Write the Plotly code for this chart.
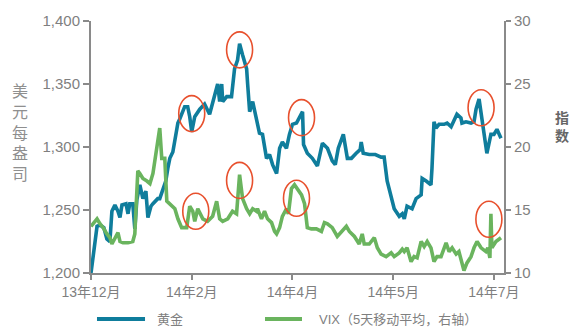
import plotly.graph_objects as go

# ---------------- data ----------------
tick_vals = [0, 40, 80, 120, 160]
tick_text = ["13年12月", "14年2月", "14年4月", "14年5月", "14年7月"]

gold_x = [0, 2.4, 3.6, 5.1, 6.3, 7.5, 8.3, 9.5, 10.7, 11.5,
          12.3, 13.9, 14.7, 15.4, 16.6, 17.4, 18.2, 19.4, 20.6, 21.8,
          22.6, 23.8, 24.6, 25.7, 26.5, 27.3, 28.5, 29.7, 30.5, 31.3,
          32.5, 33.3, 34.5, 35.2, 36.0, 37.2, 38.4, 39.2, 40.0, 41.2,
          43.2, 45.1, 47.1, 48.3, 50.3, 51.1, 51.9, 52.3, 53.9, 55.8,
          57.0, 58.2, 59.0, 60.2, 61.8, 62.2, 63.0, 64.2, 65.0, 66.1,
          66.9, 68.1, 68.9, 69.7, 70.9, 72.1, 73.7, 74.9, 76.0, 77.6,
          78.8, 80.0, 81.6, 82.8, 84.0, 84.4, 85.9, 87.9, 89.9, 91.9,
          93.9, 95.8, 97.0, 98.2, 100.2, 101.8, 103.4, 105.3, 106.9, 107.3,
          108.1, 110.5, 112.9, 115.2, 116.4, 117.6, 119.2, 120.4, 122.4, 123.6,
          124.4, 125.5, 127.5, 129.1, 131.1, 131.5, 133.1, 135.0, 135.4, 136.2,
          137.0, 138.2, 140.2, 141.4, 143.0, 144.2, 145.3, 146.9, 147.3, 148.9,
          150.9, 152.1, 152.9, 154.1, 154.9, 156.0, 157.2, 158.8, 160.0, 161.2,
          162.8]
gold_y = [1200, 1237, 1238, 1236, 1227, 1225, 1249, 1254, 1249, 1244,
          1254, 1255, 1247, 1255, 1255, 1235, 1258, 1270, 1259, 1265,
          1244, 1253, 1255, 1257, 1259, 1259, 1267, 1273, 1283, 1291,
          1296, 1307, 1319, 1322, 1326, 1332, 1332, 1324, 1312, 1324,
          1330, 1334, 1326, 1336, 1350, 1336, 1350, 1336, 1340, 1340,
          1362, 1369, 1382, 1373, 1362, 1350, 1328, 1336, 1328, 1318,
          1311, 1310, 1299, 1291, 1294, 1286, 1279, 1299, 1304, 1299,
          1310, 1318, 1319, 1323, 1328, 1302, 1295, 1291, 1285, 1303,
          1299, 1289, 1286, 1299, 1310, 1291, 1291, 1295, 1298, 1304,
          1295, 1294, 1294, 1292, 1292, 1273, 1259, 1251, 1245, 1247,
          1243, 1253, 1251, 1259, 1262, 1275, 1273, 1270, 1283, 1320,
          1315, 1318, 1318, 1319, 1316, 1322, 1326, 1323, 1319, 1320,
          1319, 1320, 1330, 1338, 1328, 1310, 1295, 1310, 1310, 1314,
          1307]

vix_x = [0, 2.4, 3.6, 4.8, 6.3, 7.5, 8.3, 9.5, 10.7, 11.5,
         12.7, 14.7, 16.6, 17.4, 18.6, 19.4, 20.6, 22.2, 23.4, 24.6,
         26.1, 27.3, 28.1, 29.3, 30.1, 32.1, 33.3, 34.5, 36.0, 38.0,
         39.2, 40.4, 41.2, 42.4, 44.4, 46.3, 48.3, 49.9, 51.1, 52.3,
         54.3, 56.2, 57.8, 59.0, 60.2, 61.8, 63.0, 64.2, 65.7, 66.1,
         67.7, 68.9, 70.1, 71.7, 72.9, 73.7, 74.9, 76.0, 77.6, 78.4,
         79.6, 80.8, 82.0, 83.6, 84.8, 85.9, 87.5, 89.5, 91.5, 92.7,
         93.9, 95.8, 97.8, 99.8, 101.4, 102.6, 104.6, 106.5, 107.7, 108.5,
         110.5, 112.5, 113.7, 115.2, 117.2, 119.2, 120.4, 122.4, 123.6, 124.4,
         125.5, 127.1, 128.3, 129.5, 131.1, 132.3, 133.5, 135.0, 136.2, 137.4,
         139.0, 141.0, 142.2, 143.4, 145.0, 146.1, 148.1, 149.3, 150.9, 152.1,
         153.3, 154.9, 156.8, 157.6, 158.4, 158.8, 159.2, 160.8, 162.8]
vix_y = [13.7, 14.3, 13.9, 13.6, 13.1, 12.8, 12.3, 12.8, 13.2, 12.5,
         12.4, 12.4, 12.5, 13.1, 18.1, 17.9, 17.5, 17.3, 17.1, 17.9,
         19.9, 21.5, 19.1, 19.1, 15.7, 15.3, 15.1, 14.3, 13.6, 13.6,
         15.3, 14.9, 14.1, 15.1, 14.3, 14.1, 14.5, 15.7, 14.3, 14.1,
         14.3, 14.9, 14.7, 17.8, 15.9, 15.1, 14.7, 15.1, 14.9, 15.1,
         14.3, 14.9, 14.3, 14.0, 13.3, 13.1, 13.6, 14.5, 15.1, 14.7,
         16.7, 17.0, 16.7, 16.2, 15.5, 13.6, 13.5, 13.5, 13.3, 14.0,
         13.9, 13.6, 12.9, 13.3, 13.7, 13.3, 12.9, 12.3, 13.1, 12.3,
         12.3, 12.8, 12.0, 11.5, 11.3, 11.6, 11.3, 11.6, 11.9, 11.7,
         12.0, 10.9, 11.3, 11.2, 12.5, 12.1, 12.5, 12.0, 10.9, 11.3,
         11.3, 12.4, 11.7, 12.0, 11.5, 11.7, 10.2, 10.8, 11.3, 12.0,
         12.5, 12.0, 11.7, 12.0, 11.2, 14.7, 12.0, 12.5, 12.8]

# highlighted points (x, value)
gold_marks = [(40.0, 1326.5), (59.0, 1377.1), (83.6, 1323.3), (154.9, 1331.2)]
vix_marks = [(41.6, 14.9), (59.0, 17.35), (81.6, 15.93), (158.0, 14.27)]

gold_name = "黄金"
vix_name = "VIX（5天移动平均，右轴）"

# ---------------- style ----------------
BLUE = "#0f7d9c"
GREEN = "#6ab45e"
RED = "#e8502d"
AX = "#8a8a8a"
TXT = "#7f7f7f"
FONT = "Liberation Sans, Arial, Noto Sans CJK SC, sans-serif"

fig = go.Figure()
fig.add_trace(go.Scatter(x=gold_x, y=gold_y, mode="lines", name=gold_name,
                         line=dict(color=BLUE, width=3.6), showlegend=False))
fig.add_trace(go.Scatter(x=vix_x, y=vix_y, mode="lines", name=vix_name, yaxis="y2",
                         line=dict(color=GREEN, width=3.6), showlegend=False))

shapes = []
for (cx, cy) in gold_marks:
    shapes.append(dict(type="circle", xref="x", yref="y", xsizemode="pixel", ysizemode="pixel",
                       xanchor=cx, yanchor=cy, x0=-13, x1=13, y0=-18, y1=18,
                       line=dict(color=RED, width=1.6)))
for (cx, cy) in vix_marks:
    shapes.append(dict(type="circle", xref="x", yref="y2", xsizemode="pixel", ysizemode="pixel",
                       xanchor=cx, yanchor=cy, x0=-13, x1=13, y0=-18, y1=18,
                       line=dict(color=RED, width=1.6)))
# legend samples
shapes.append(dict(type="line", xref="paper", yref="paper", x0=0.0145, x1=0.1308, y0=-0.183, y1=-0.183,
                   line=dict(color=BLUE, width=4)))
shapes.append(dict(type="line", xref="paper", yref="paper", x0=0.4213, x1=0.5109, y0=-0.183, y1=-0.183,
                   line=dict(color=GREEN, width=4)))

annotations = [
    dict(text="美<br>元<br>每<br>盎<br>司", xref="paper", yref="paper", x=-0.172, y=0.556,
         xanchor="center", yanchor="middle", showarrow=False,
         font=dict(family=FONT, size=16, color="#8f8f8f")),
    dict(text="<b>指<br>数</b>", xref="paper", yref="paper", x=1.118, y=0.579,
         xanchor="left", yanchor="middle", showarrow=False,
         font=dict(family=FONT, size=14, color="#666666")),
    dict(text=gold_name, xref="paper", yref="paper", x=0.155, y=-0.183,
         xanchor="left", yanchor="middle", showarrow=False,
         font=dict(family=FONT, size=13, color=TXT)),
    dict(text=vix_name, xref="paper", yref="paper", x=0.547, y=-0.183,
         xanchor="left", yanchor="middle", showarrow=False,
         font=dict(family=FONT, size=13, color=TXT)),
]

fig.update_layout(
    width=571, height=327,
    margin=dict(l=91, r=67, t=19, b=54, pad=0),
    paper_bgcolor="white", plot_bgcolor="white",
    font=dict(family=FONT, color=TXT),
    showlegend=False,
    xaxis=dict(range=[0, 164], tickvals=tick_vals, ticktext=tick_text,
               showgrid=False, zeroline=False, showline=True, linecolor=AX, linewidth=2,
               ticks="outside", ticklen=5, tickwidth=2, tickcolor=AX,
               tickfont=dict(family=FONT, size=14, color=TXT)),
    yaxis=dict(range=[1200, 1400], tickvals=[1200, 1250, 1300, 1350, 1400],
               ticktext=["1,200", "1,250", "1,300", "1,350", "1,400"],
               showgrid=False, zeroline=False, showline=True, linecolor=AX, linewidth=2,
               ticks="outside", ticklen=6, tickwidth=2, tickcolor=AX,
               tickfont=dict(family=FONT, size=15, color=TXT)),
    yaxis2=dict(range=[10, 30], tickvals=[10, 15, 20, 25, 30], overlaying="y", side="right",
                showgrid=False, zeroline=False, showline=True, linecolor=AX, linewidth=2,
                ticks="outside", ticklen=5, tickwidth=2, tickcolor=AX,
                tickfont=dict(family=FONT, size=15, color=TXT)),
    shapes=shapes,
    annotations=annotations,
)

fig.write_html("out.html")
